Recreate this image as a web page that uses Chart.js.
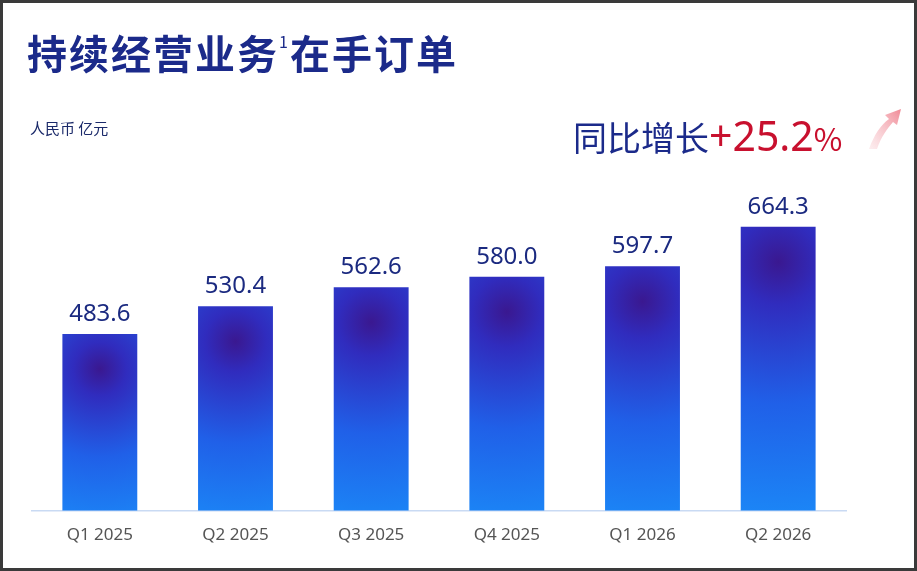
<!DOCTYPE html>
<html><head><meta charset="utf-8">
<script src="https://cdn.jsdelivr.net/npm/chart.js@4"></script>
<style>
html,body{margin:0;padding:0;background:#fff;}
#wrap{position:relative;width:917px;height:571px;box-sizing:border-box;border:3px solid #3a3a3a;overflow:hidden;font-family:"Noto Sans CJK SC","Noto Sans",sans-serif;}
canvas{position:absolute;left:-3px;top:-3px;}
#title{position:absolute;left:24px;top:20px;font-size:40px;font-weight:bold;color:#1b2a8a;letter-spacing:2px;}
#title sup{font-size:16px;vertical-align:top;position:relative;top:6px;font-weight:normal;}
#unit{position:absolute;left:27px;top:114px;font-size:15px;color:#1b2a6a;}
#yoy{position:absolute;left:570px;top:104px;font-size:34px;color:#1b2a8a;white-space:nowrap;}
#yoy span{color:#c8102e;font-size:41px;font-family:"Noto Sans",sans-serif;}
#yoy small{color:#c8102e;font-size:31px;}
#arrow{position:absolute;left:862px;top:100px;}
</style></head><body>
<div id="wrap">
<canvas id="c" width="917" height="571"></canvas>
<div id="title">持续经营业务<sup>1</sup>在手订单</div>
<div id="unit">人民币 亿元</div>
<div id="yoy">同比增长<span>+25.2</span><small>%</small></div>
<svg id="arrow" width="40" height="50" viewBox="0 0 40 50">
<defs><linearGradient id="ag" x1="0" y1="1" x2="1" y2="0"><stop offset="0" stop-color="#fbe3e6" stop-opacity="0.6"/><stop offset="1" stop-color="#f08a96"/></linearGradient></defs>
<path d="M4 46 C10 30 16 22 24 16 L20 12 L36 6 L32 22 L28 19 C22 26 16 34 12 46 Z" fill="url(#ag)"/>
</svg>
</div>
<script>
const categories=["Q1 2025","Q2 2025","Q3 2025","Q4 2025","Q1 2026","Q2 2026"];
const orders=[483.6,530.4,562.6,580.0,597.7,664.3];
const valueLabels=["483.6","530.4","562.6","580.0","597.7","664.3"];

function barFill(ctx){
  const chart=ctx.chart, i=ctx.dataIndex;
  const xs=chart.scales.x, ys=chart.scales.y;
  if(!xs||!ys||!chart.chartArea) return "#1f6fe8";
  const x=xs.getPixelForValue(i), top=ys.getPixelForValue(orders[i]), bot=chart.chartArea.bottom;
  const h=bot-top;
  const g=chart.ctx.createRadialGradient(x,top+35,0,x,top+35,Math.max(h,150));
  g.addColorStop(0,"#3a1890");
  g.addColorStop(0.15,"#302cbe");
  g.addColorStop(0.5,"#2060e8");
  g.addColorStop(1,"#1a90fa");
  return g;
}
const labelPlugin={id:"vl",afterDatasetsDraw(chart){
  const c=chart.ctx, meta=chart.getDatasetMeta(0);
  c.save();c.font="24px 'Noto Sans',sans-serif";c.fillStyle="#1b2a80";c.textAlign="center";c.textBaseline="bottom";
  meta.data.forEach((el,i)=>c.fillText(valueLabels[i],el.x,el.y-8));
  c.restore();
}};
new Chart(document.getElementById("c"),{
  type:"bar",
  data:{labels:categories,datasets:[{data:orders,backgroundColor:barFill,barPercentage:0.552,categoryPercentage:1}]},
  options:{responsive:false,animation:false,
    layout:{padding:{left:32,right:71,top:160,bottom:20}},
    plugins:{legend:{display:false},tooltip:{enabled:false}},
    scales:{
      y:{display:false,min:186,max:777},
      x:{grid:{display:false},border:{color:"#c9daf3",width:1.5},
        ticks:{color:"#555",font:{size:17,family:"'Noto Sans',sans-serif"},padding:6}}
    }},
  plugins:[labelPlugin]
});
</script>
</body></html>
